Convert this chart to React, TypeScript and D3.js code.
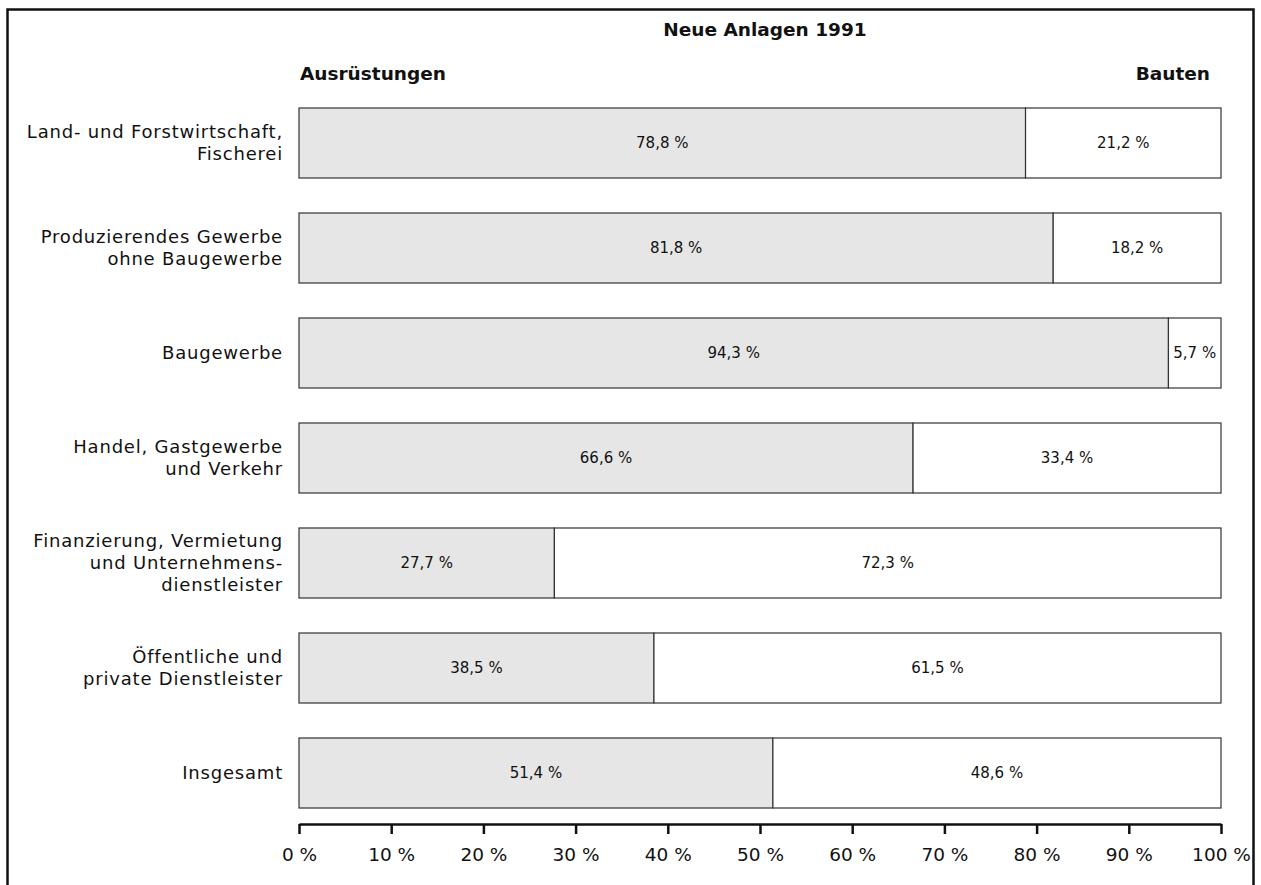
import { useEffect, useRef } from 'react'
import * as d3 from 'd3'

const categories = [
  ['Land- und Forstwirtschaft,', 'Fischerei'],
  ['Produzierendes Gewerbe', 'ohne Baugewerbe'],
  ['Baugewerbe'],
  ['Handel, Gastgewerbe', 'und Verkehr'],
  ['Finanzierung, Vermietung', 'und Unternehmens-', 'dienstleister'],
  ['Öffentliche und', 'private Dienstleister'],
  ['Insgesamt'],
]
const ausruestungen = [78.8, 81.8, 94.3, 66.6, 27.7, 38.5, 51.4]
const bauten = [21.2, 18.2, 5.7, 33.4, 72.3, 61.5, 48.6]
const ticks = [0, 10, 20, 30, 40, 50, 60, 70, 80, 90, 100]

const W = 1261
const H = 885
const fmt = (v: number) => v.toFixed(1).replace('.', ',') + ' %'

export default function App() {
  const svgRef = useRef<SVGSVGElement>(null)

  useEffect(() => {
    if (!svgRef.current) return
    const svg = d3.select(svgRef.current)
    svg.selectAll('*').remove()

    const font = "'DejaVu Sans', sans-serif"

    // frame
    svg.append('rect')
      .attr('x', 7.5).attr('y', 9.5)
      .attr('width', 1246).attr('height', 920)
      .attr('fill', 'white')
      .attr('stroke', '#111').attr('stroke-width', 2.5)

    const x = d3.scaleLinear().domain([0, 100]).range([299, 1221])
    const y = d3.scaleBand<number>()
      .domain(d3.range(categories.length))
      .range([108, 808])
      .paddingInner(1 / 3)
      .paddingOuter(0)
    const bh = y.bandwidth()

    const heading = (tx: number, ty: number, anchor: string, label: string) =>
      svg.append('text')
        .attr('x', tx).attr('y', ty)
        .attr('text-anchor', anchor)
        .style('font-family', font).style('font-weight', 'bold').style('font-size', '18.5px')
        .style('fill', '#111')
        .text(label)

    heading(765, 36, 'middle', 'Neue Anlagen 1991')
    heading(300, 80, 'start', 'Ausrüstungen')
    heading(1210, 80, 'end', 'Bauten')

    const rows = svg.append('g')
      .selectAll('g')
      .data(categories)
      .join('g')

    rows.append('rect')
      .attr('x', x(0))
      .attr('y', (_, i) => y(i)!)
      .attr('width', (_, i) => x(ausruestungen[i]) - x(0))
      .attr('height', bh)
      .attr('fill', '#e6e6e6')
      .attr('stroke', '#333').attr('stroke-width', 1.2)

    rows.append('rect')
      .attr('x', (_, i) => x(ausruestungen[i]))
      .attr('y', (_, i) => y(i)!)
      .attr('width', (_, i) => x(ausruestungen[i] + bauten[i]) - x(ausruestungen[i]))
      .attr('height', bh)
      .attr('fill', 'white')
      .attr('stroke', '#333').attr('stroke-width', 1.2)

    rows.append('text')
      .attr('x', (_, i) => x(ausruestungen[i] / 2))
      .attr('y', (_, i) => y(i)! + bh / 2)
      .attr('dy', '0.35em')
      .attr('text-anchor', 'middle')
      .style('font-family', font).style('font-size', '15px').style('fill', '#111')
      .text((_, i) => fmt(ausruestungen[i]))

    rows.append('text')
      .attr('x', (_, i) => x(ausruestungen[i] + bauten[i] / 2))
      .attr('y', (_, i) => y(i)! + bh / 2)
      .attr('dy', '0.35em')
      .attr('text-anchor', 'middle')
      .style('font-family', font).style('font-size', '15px').style('fill', '#111')
      .text((_, i) => fmt(bauten[i]))

    // category labels, one text per line
    rows.each(function (lines, i) {
      const cy = y(i)! + bh / 2
      const lh = 22
      lines.forEach((line, k) => {
        d3.select(this).append('text')
          .attr('x', 283)
          .attr('y', cy + (k - (lines.length - 1) / 2) * lh)
          .attr('dy', '0.35em')
          .attr('text-anchor', 'end')
          .style('font-family', font).style('font-size', '18px').style('fill', '#111')
          .style('letter-spacing', '0.8px')
          .text(line)
      })
    })

    // axis
    const axis = svg.append('g')
      .attr('transform', 'translate(0,824)')
      .call(d3.axisBottom(x).tickValues(ticks).tickSize(10).tickSizeOuter(0).tickPadding(14).tickFormat(d => `${d} %`))
    axis.select('.domain').attr('stroke', '#111').attr('stroke-width', 2.5)
    axis.selectAll('.tick line').attr('stroke', '#111').attr('stroke-width', 2.5)
    axis.selectAll('.tick text')
      .style('font-family', font).style('font-size', '18.5px').style('fill', '#111')
  }, [])

  return (
    <svg
      ref={svgRef}
      width={W}
      height={H}
      style={{ position: 'absolute', left: 0, top: 0, background: 'white' }}
    />
  )
}
